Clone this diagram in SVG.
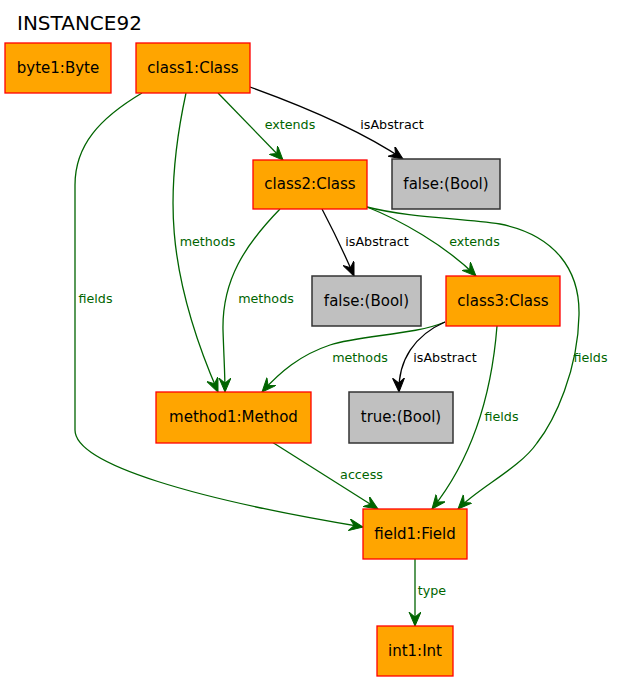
<svg xmlns="http://www.w3.org/2000/svg" width="618" height="682" viewBox="0 0 618 682">
<style>
text{font-family:"DejaVu Sans","Liberation Sans",sans-serif}
.title{font-size:20px;fill:#000}
.obj rect{fill:#FFA500;stroke:#FF0000;stroke-width:1.3}
.val rect{fill:#C0C0C0;stroke:#333;stroke-width:1.5}
.nl{font-size:15px;text-anchor:middle;fill:#000}
.e{fill:none;stroke-width:1.3}
.g{stroke:#006400}
.k{stroke:#000}
.el{font-size:12.7px;text-anchor:middle}
.lg{fill:#006400}
.lk{fill:#000}
</style>
<defs>
<marker id="ag" markerUnits="userSpaceOnUse" markerWidth="16" markerHeight="14" refX="14" refY="6" orient="auto" viewBox="0 0 16 14">
<path d="M0,0 L14,6 L0,12 L5,6 Z" fill="#006400" stroke="#006400" stroke-width="1"/>
</marker>
<marker id="ak" markerUnits="userSpaceOnUse" markerWidth="16" markerHeight="14" refX="14" refY="6" orient="auto" viewBox="0 0 16 14">
<path d="M0,0 L14,6 L0,12 L5,6 Z" fill="#000" stroke="#000" stroke-width="1"/>
</marker>
</defs>
<rect width="618" height="682" fill="#fff"/>
<text class="title" x="17" y="30">INSTANCE92</text>

<g id="connectors">
<path class="e g" marker-end="url(#ag)" d="M218,93 L283,160"/>
<path class="e k" marker-end="url(#ak)" d="M250,87 C300,105 360,130 403,159"/>
<path class="e g" marker-end="url(#ag)" d="M186,93 C165,190 165,270 218,392"/>
<path class="e g" marker-end="url(#ag)" d="M142,93 C100,118 75,145 75,185 L75,430 C75,465 200,500 363,527"/>
<path class="e k" marker-end="url(#ak)" d="M322,209 C333,230 345,255 354,276"/>
<path class="e g" marker-end="url(#ag)" d="M367,207 C400,220 445,245 476,276"/>
<path class="e g" marker-end="url(#ag)" d="M280,209 C245,245 222,280 223,330 C224,360 225,375 225,392"/>
<path class="e g" marker-end="url(#ag)" d="M367,207 C410,218 460,218 500,224 C555,235 580,270 579,315 C578,370 555,420 537,443 C520,468 478,488 458,509"/>
<path class="e g" marker-end="url(#ag)" d="M445,322 C415,335 360,335 330,345 C300,355 280,372 262,392"/>
<path class="e k" marker-end="url(#ak)" d="M445,322 C415,335 398,360 399,392"/>
<path class="e g" marker-end="url(#ag)" d="M497,326 C492,390 475,455 432,509"/>
<path class="e g" marker-end="url(#ag)" d="M272,442 L378,509"/>
<path class="e g" marker-end="url(#ag)" d="M415,559 L415,626"/>
<text class="el lg" x="290" y="129">extends</text>
<text class="el lk" x="392" y="129">isAbstract</text>
<text class="el lg" x="207.5" y="246">methods</text>
<text class="el lg" x="95.5" y="303">fields</text>
<text class="el lg" x="266" y="303">methods</text>
<text class="el lk" x="377" y="246">isAbstract</text>
<text class="el lg" x="474.5" y="246">extends</text>
<text class="el lg" x="360" y="362">methods</text>
<text class="el lk" x="445" y="362">isAbstract</text>
<text class="el lg" x="501.5" y="421">fields</text>
<text class="el lg" x="590.5" y="362">fields</text>
<text class="el lg" x="361.5" y="479">access</text>
<text class="el lg" x="432" y="595">type</text>
</g>

<g id="byte1" class="obj"><rect x="5" y="43" width="106" height="50"/><text class="nl" x="58" y="72.5">byte1:Byte</text></g>
<g id="class1" class="obj"><rect x="136" y="43" width="114" height="50"/><text class="nl" x="193" y="72.5">class1:Class</text></g>
<g id="class2" class="obj"><rect x="253" y="160" width="114" height="49"/><text class="nl" x="310" y="189">class2:Class</text></g>
<g id="false1" class="val"><rect x="392" y="159" width="108" height="50"/><text class="nl" x="446" y="189">false:(Bool)</text></g>
<g id="false2" class="val"><rect x="312" y="276" width="109" height="50"/><text class="nl" x="366.5" y="306">false:(Bool)</text></g>
<g id="class3" class="obj"><rect x="446" y="276" width="114" height="50"/><text class="nl" x="503" y="306">class3:Class</text></g>
<g id="method1" class="obj"><rect x="156" y="392" width="155" height="51"/><text class="nl" x="233.5" y="422">method1:Method</text></g>
<g id="true1" class="val"><rect x="349" y="392" width="104" height="51"/><text class="nl" x="401" y="422">true:(Bool)</text></g>
<g id="field1" class="obj"><rect x="363" y="509" width="104" height="50"/><text class="nl" x="415" y="539">field1:Field</text></g>
<g id="int1" class="obj"><rect x="377" y="626" width="76" height="50"/><text class="nl" x="415" y="656">int1:Int</text></g>
</svg>
